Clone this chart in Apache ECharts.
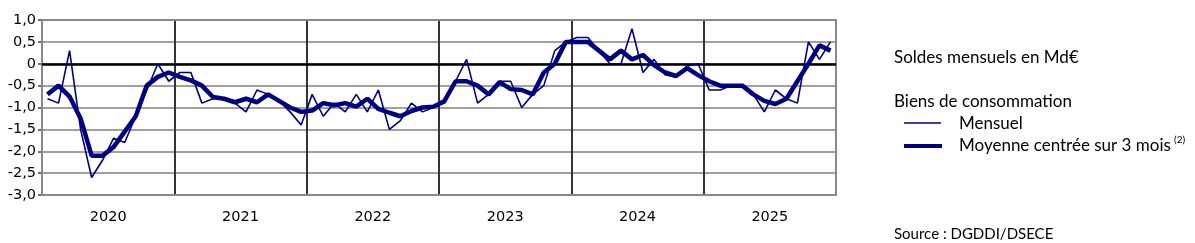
<!DOCTYPE html>
<html>
<head>
<meta charset="utf-8">
<script src="https://cdn.jsdelivr.net/npm/echarts@6/dist/echarts.min.js"></script>
<style>
html,body{margin:0;padding:0;background:#fff;}
#c{width:1195px;height:243px;}
</style>
</head>
<body>
<div id="c"></div>
<script>
// ---- data ----
var years = ['2020', '2021', '2022', '2023', '2024', '2025'];
var monthNames = ['01','02','03','04','05','06','07','08','09','10','11','12'];

// Biens de consommation - solde mensuel (Md€)
var mensuel2020 = [-0.8, -0.9, 0.3, -1.5, -2.6, -2.2, -1.7, -1.8, -1.2, -0.6, 0.0, -0.4];
var mensuel2021 = [-0.2, -0.2, -0.9, -0.8, -0.8, -0.9, -1.1, -0.6, -0.7, -0.85, -1.1, -1.4];
var mensuel2022 = [-0.7, -1.2, -0.9, -1.1, -0.7, -1.1, -0.6, -1.5, -1.3, -0.9, -1.1, -1.0];
var mensuel2023 = [-0.9, -0.4, 0.1, -0.9, -0.7, -0.4, -0.4, -1.0, -0.7, -0.5, 0.3, 0.5];
var mensuel2024 = [0.6, 0.6, 0.3, 0.0, 0.0, 0.8, -0.2, 0.1, -0.25, -0.3, -0.05, 0.0];
var mensuel2025 = [-0.6, -0.6, -0.5, -0.5, -0.7, -1.1, -0.6, -0.8, -0.9, 0.5, 0.1, 0.5];

// Moyenne centrée sur 3 mois
var moyenne2020 = [-0.7, -0.5, -0.75, -1.25, -2.1, -2.1, -1.9, -1.55, -1.2, -0.5, -0.3, -0.2];
var moyenne2021 = [-0.3, -0.38, -0.5, -0.76, -0.8, -0.88, -0.8, -0.88, -0.7, -0.85, -1.0, -1.1];
var moyenne2022 = [-1.07, -0.9, -0.95, -0.9, -0.98, -0.8, -1.03, -1.12, -1.2, -1.08, -1.0, -0.98];
var moyenne2023 = [-0.85, -0.4, -0.4, -0.5, -0.7, -0.42, -0.58, -0.6, -0.7, -0.2, 0.0, 0.5];
var moyenne2024 = [0.5, 0.5, 0.3, 0.1, 0.3, 0.1, 0.2, -0.03, -0.2, -0.28, -0.1, -0.26];
var moyenne2025 = [-0.4, -0.5, -0.5, -0.5, -0.7, -0.85, -0.92, -0.8, -0.4, 0.0, 0.42, 0.3];

var yTicks = [1.0, 0.5, 0, -0.5, -1.0, -1.5, -2.0, -2.5, -3.0];

var textTitle = 'Soldes mensuels en Md€';
var textGroup = 'Biens de consommation';
var nameMensuel = 'Mensuel';
var nameMoyenne = 'Moyenne centrée sur 3 mois';
var noteMoyenne = '(2)';
var textSource = 'Source : DGDDI/DSECE';

// ---- build ----
var months = [];
years.forEach(function (y) { monthNames.forEach(function (m) { months.push(y + '-' + m); }); });
var mensuel = [].concat(mensuel2020, mensuel2021, mensuel2022, mensuel2023, mensuel2024, mensuel2025);
var moyenne = [].concat(moyenne2020, moyenne2021, moyenne2022, moyenne2023, moyenne2024, moyenne2025);

var navy = '#000080';
var chart = echarts.init(document.getElementById('c'), null, {renderer: 'canvas'});
var txtFont = '17px Lato';
var axisFont = 'DejaVu Sans';

function label(txt, x, y, font) {
  return {type: 'text', x: x, y: y, style: {text: txt, font: font || txtFont, fill: '#000', verticalAlign: 'middle', align: 'left'}};
}

chart.setOption({
  animation: false,
  grid: {left: 42, right: 359, top: 20, bottom: 48, show: true, borderColor: '#888', borderWidth: 2, backgroundColor: 'transparent', z: 1},
  xAxis: [
    {type: 'category', data: months, boundaryGap: true, gridIndex: 0,
     axisLine: {show: false}, axisTick: {show: false}, axisLabel: {show: false}, splitLine: {show: false}},
    {type: 'category', data: years, boundaryGap: true, gridIndex: 0, position: 'bottom',
     axisLine: {show: true, lineStyle: {color: '#888', width: 2}},
     axisTick: {show: false},
     axisLabel: {show: true, color: '#000', fontSize: 14.5, fontFamily: axisFont, margin: 15},
     splitLine: {show: true, interval: function (i) { return i > 0; }, lineStyle: {color: '#333', width: 2}}}
  ],
  yAxis: {
    type: 'value', min: -3, max: 1, interval: 0.5,
    axisLine: {show: true, lineStyle: {color: '#404040', width: 2}},
    axisTick: {show: true, length: 4, lineStyle: {color: '#404040', width: 1.5}},
    axisLabel: {color: '#000', fontSize: 14.5, fontFamily: axisFont, margin: 6,
      formatter: function (v) {
        var t = yTicks.filter(function (k) { return Math.abs(k - v) < 1e-9; })[0];
        if (t === undefined) return '';
        return t === 0 ? '0' : t.toFixed(1).replace('.', ',');
      }},
    splitLine: {show: true, lineStyle: {color: '#808080', width: 1.5}}
  },
  series: [
    {name: nameMensuel, type: 'line', xAxisIndex: 0, data: mensuel, symbol: 'none',
     lineStyle: {color: navy, width: 1.6}, z: 3,
     markLine: {silent: true, symbol: ['none', 'none'], label: {show: false},
       lineStyle: {color: '#000', width: 2.5, type: 'solid'}, data: [{yAxis: 0}], z: 2}},
    {name: nameMoyenne, type: 'line', xAxisIndex: 0, data: moyenne, symbol: 'none',
     lineStyle: {color: navy, width: 4.5}, z: 4}
  ],
  graphic: [
    label(textTitle, 894, 58),
    label(textGroup, 894, 102),
    {type: 'line', shape: {x1: 904, y1: 123, x2: 941, y2: 123}, style: {stroke: navy, lineWidth: 1.5}},
    label(nameMensuel, 959, 124),
    {type: 'line', shape: {x1: 904, y1: 146, x2: 942, y2: 146}, style: {stroke: navy, lineWidth: 4}},
    label(nameMoyenne, 959, 146),
    label(noteMoyenne, 1174, 140, '10px Lato'),
    label(textSource, 894, 234, '15px Lato')
  ]
});
</script>
</body>
</html>
